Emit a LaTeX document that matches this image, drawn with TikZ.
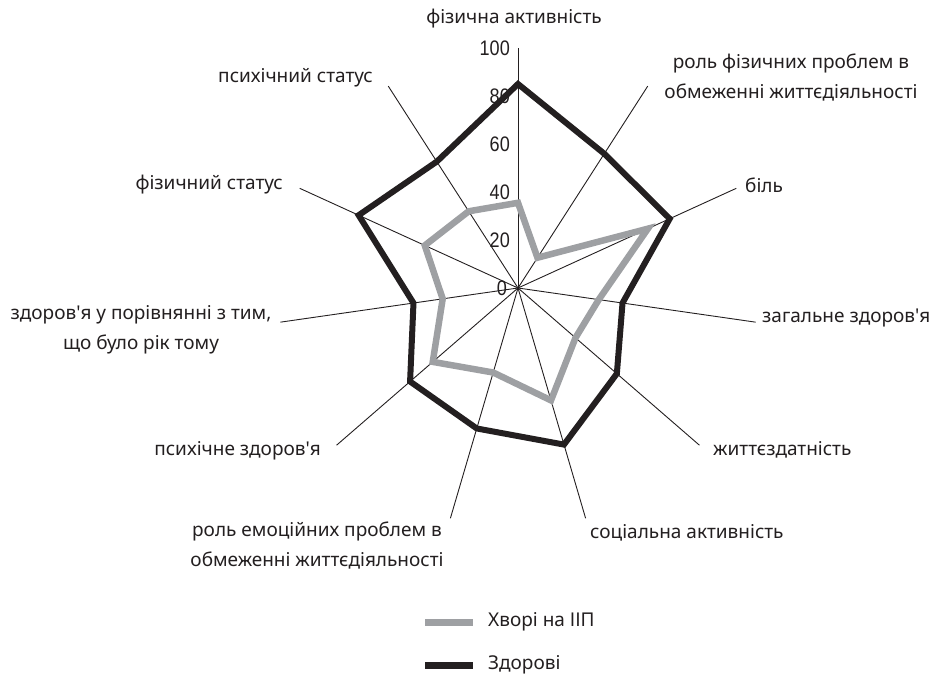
\documentclass[tikz,border=0pt]{standalone}
\usepackage{fontspec}
\setmainfont[Ligatures=TeXOff]{Noto Sans}
\newfontfamily\numfont[FakeStretch=0.86]{Liberation Sans}
\definecolor{ink}{HTML}{231F20}
\definecolor{sick}{RGB}{158,160,163}
\tikzset{
  axisline/.style={draw=ink, line width=0.9pt},
  healthyline/.style={draw=ink, line width=6pt, line join=miter},
  sickline/.style={draw=sick, line width=6.5pt, line join=miter},
  lbl/.style={text=ink, font=\fontsize{19}{30}\selectfont, inner sep=0pt, align=center},
  numlbl/.style={text=ink, font=\numfont\fontsize{21}{22}\selectfont, inner sep=0pt, anchor=east}
}
\begin{document}
\begin{tikzpicture}[x=1pt,y=-1pt]
\useasboundingbox (0,0) rectangle (940,677);
\coordinate (O) at (518,288);
% axes and data points
\foreach \i/\h/\s in {0/85/35.5, 1/66.5/15, 2/69.5/59.5, 3/44/34, 4/54.5/31.7, 5/68/48.8, 6/61/36.7, 7/59.5/47, 8/44/31.7, 9/73/42.7, 10/62.6/38}{
  \pgfmathsetmacro{\t}{\i*360/11}
  \coordinate (A\i) at ({518+240*sin(\t)},{288-240*cos(\t)});
  \coordinate (H\i) at ({518+2.4*\h*sin(\t)},{288-2.4*\h*cos(\t)});
  \coordinate (S\i) at ({518+2.4*\s*sin(\t)},{288-2.4*\s*cos(\t)});
}
\foreach \i in {0,...,10}{ \draw[axisline] (O) -- (A\i); }
\draw[sickline] (S0) -- (S1) -- (S2) -- (S3) -- (S4) -- (S5) -- (S6) -- (S7) -- (S8) -- (S9) -- (S10) -- cycle;
\draw[healthyline] (H0) -- (H1) -- (H2) -- (H3) -- (H4) -- (H5) -- (H6) -- (H7) -- (H8) -- (H9) -- (H10) -- cycle;
% scale numbers
\foreach \v in {20,40,60,80,100}{ \node[numlbl] (n\v) at (510,{288-2.4*\v}) {\v}; }
\node[numlbl] (n0) at (507,288) {0};
% axis labels
\node[lbl] (L0) at (514,19) {фізична активність};
\node[lbl] (L1) at (791,78) {роль фізичних проблем в\\обмеженні життєдіяльності};
\node[lbl, anchor=west] (L2) at (745,185) {біль};
\node[lbl, anchor=west] (L3) at (762,318) {загальне здоров'я};
\node[lbl, anchor=west] (L4) at (713,450) {життєздатність};
\node[lbl, anchor=west] (L5) at (590,533) {соціальна активність};
\node[lbl] (L6) at (317,545.5) {роль емоційних проблем в\\обмеженні життєдіяльності};
\node[lbl, anchor=east] (L7) at (321,451) {психічне здоров'я};
\node[lbl] (L8) at (141,330) {здоров'я у порівнянні з тим,\\що було рік тому};
\node[lbl, anchor=east] (L9) at (283,185) {фізичний статус};
\node[lbl, anchor=east] (L10) at (373,78) {психічний статус};
% legend
\coordinate (g1) at (425,622); \coordinate (g2) at (473,622);
\coordinate (k1) at (425,665); \coordinate (k2) at (473,665);
\draw[draw=sick, line width=7pt] (g1) -- (g2);
\draw[draw=ink, line width=7pt] (k1) -- (k2);
\node[lbl, anchor=west] (leg1) at (488,622) {Хворі на ІІП};
\node[lbl, anchor=west] (leg2) at (488,665) {Здорові};
\end{tikzpicture}
\end{document}
